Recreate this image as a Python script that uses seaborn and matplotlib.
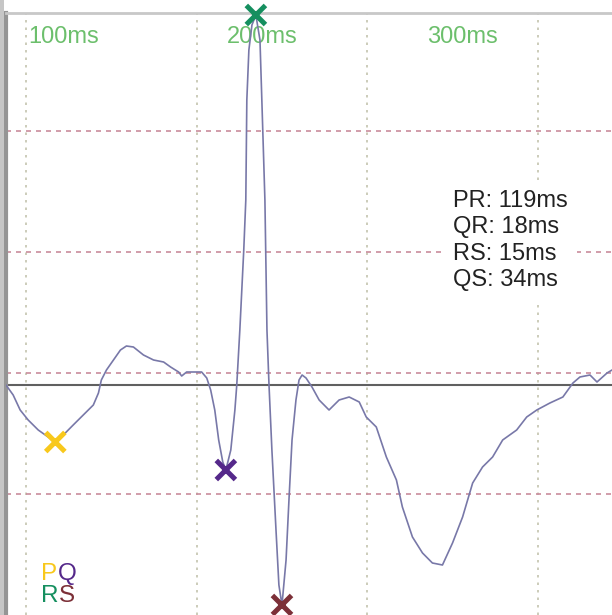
import matplotlib
matplotlib.use("Agg")
import matplotlib.pyplot as plt
import matplotlib.transforms as mtransforms
from matplotlib.patches import Rectangle
import seaborn as sns
import pandas as pd

# ECG trace (time in ms, amplitude in arbitrary units)
time_ms = [88.2, 92.4, 96.5, 101.2, 107.1, 112.9, 117.1, 121.8, 127.6, 133.5,
           139.4, 142.4, 144.1, 147.1, 151.2, 155.3, 158.8, 162.9, 168.8, 174.7,
           180.6, 184.7, 189.4, 191.2, 194.1, 198.2, 202.9, 205.9, 208.2, 210.6,
           212.9, 215.3, 217.1, 220.0, 222.4, 223.5, 225.3, 227.6, 228.8, 229.4,
           230.6, 232.4, 234.7, 237.1, 238.2, 240.0, 241.2, 242.4, 244.1, 246.5,
           248.2, 250.0, 252.4, 254.1, 255.9, 258.2, 260.0, 261.8, 264.1, 267.6,
           271.8, 277.6, 283.5, 289.4, 295.3, 299.4, 305.3, 311.2, 317.1, 320.6,
           326.5, 332.4, 338.2, 344.1, 350.0, 355.9, 361.8, 367.6, 373.5, 379.4,
           387.6, 393.5, 399.4, 407.1, 414.7, 420.6, 424.7, 430.6, 434.7, 440.6,
           443.5]
amplitude = [0, -10, -25, -35, -45, -52, -57, -50, -40, -30,
             -20, -8, 5, 15, 25, 35, 39, 38, 30, 25,
             23, 18, 13, 9, 13, 13, 13, 7, -5, -25,
             -55, -77, -85, -65, -25, 0, 55, 135, 185, 285,
             335, 360, 370, 345, 285, 185, 55, 0, -65, -145,
             -200, -220, -175, -115, -55, -15, 5, 10, 7, -2,
             -15, -25, -15, -12, -17, -32, -42, -72, -95, -122,
             -152, -168, -178, -180, -158, -132, -98, -82, -72, -55,
             -45, -32, -25, -18, -12, 2, 8, 10, 3, 12,
             15]

# detected P, Q, R, S points
wave_labels = ["P", "Q", "R", "S"]
wave_times = [117.1, 217.1, 234.7, 250.0]
wave_amps = [-57, -85, 370, -220]
wave_colors = {"P": "#f8c81c", "Q": "#55288a", "R": "#158f5f", "S": "#7c3038"}

grid_times = [100, 200, 300, 400]
amp_grid = [254, 133, 12, -109]

# time labels and where they sit along the top (ms)
time_labels = ["100ms", "200ms", "300ms"]
time_label_pos = [101.2, 217.6, 335.3]

intervals = ["PR: 119ms", "QR: 18ms", "RS: 15ms", "QS: 34ms"]

sns.set_style("white")
plt.rcParams["font.family"] = ["Liberation Sans", "DejaVu Sans"]

W, H = 612, 615
fig = plt.figure(figsize=(W / 100, H / 100), dpi=100)
fig.patches.append(Rectangle((0, 0), 4 / W, 1, transform=fig.transFigure,
                             facecolor="#c6c6c6", edgecolor="none", zorder=0))
ax = fig.add_axes([6 / W, 0, 1 - 6 / W, 1 - 13 / H])

for t in grid_times:
    ax.axvline(t, color="#c4c4ae", lw=1.2, ls=(0, (1.5, 3)), zorder=1)
for a in amp_grid:
    ax.axhline(a, color="#c98c9c", lw=1.2, ls=(0, (3, 3)), zorder=1)
ax.axhline(0, color="#606060", lw=1.5, zorder=2)

trace = pd.DataFrame({"t": time_ms, "amp": amplitude})
sns.lineplot(data=trace, x="t", y="amp", sort=False, estimator=None,
             color="#7878a8", lw=1.2, ax=ax, zorder=4)

waves = pd.DataFrame({"t": wave_times, "amp": wave_amps, "wave": wave_labels})
sns.scatterplot(data=waves, x="t", y="amp", hue="wave", palette=wave_colors,
                marker="x", s=190, linewidth=3.6, legend=False, ax=ax,
                clip_on=False, zorder=6)

ax.set_xlim(88.2, 443.5)
ax.set_ylim(-230, 372)
ax.set_xticks([])
ax.set_yticks([])
ax.set_xlabel("")
ax.set_ylabel("")

trans = mtransforms.blended_transform_factory(ax.transData, ax.transAxes)
for lab, pos in zip(time_labels, time_label_pos):
    ax.text(pos, 1 - 30 / 602, lab, transform=trans, color="#6cbf6c",
            fontsize=17, va="baseline", ha="left", zorder=3)

ax.text(350.0, 1 - 177 / 602, "\n".join(intervals), transform=trans,
        color="#222222", fontsize=17, va="top", ha="left", linespacing=1.26,
        zorder=5, bbox=dict(facecolor="white", edgecolor="none", pad=7))

for sp in ["right", "bottom"]:
    ax.spines[sp].set_visible(False)
ax.spines["top"].set_color("#c8c8c8")
ax.spines["top"].set_linewidth(2)
ax.spines["left"].set_color("#959595")
ax.spines["left"].set_linewidth(3)

# colour key in the lower left corner: PQ on top, RS below
key_rows = [("P", "Q", 580), ("R", "S", 602)]
for first, second, base in key_rows:
    t1 = fig.text(41 / W, 1 - base / H, first, color=wave_colors[first],
                  fontsize=17.5, va="baseline")
    ax.annotate(second, xy=(1, 0), xycoords=t1, xytext=(0.5, 0),
                textcoords="offset points", color=wave_colors[second],
                fontsize=17.5, va="bottom", ha="left")

fig.savefig("out.png", dpi=100)
